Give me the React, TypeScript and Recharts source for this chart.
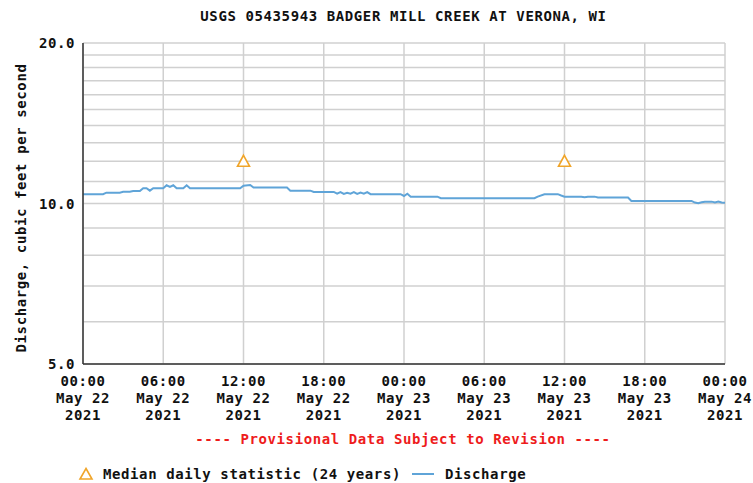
import React from "react";
import {
  ComposedChart,
  Line,
  Scatter,
  XAxis,
  YAxis,
  CartesianGrid,
} from "recharts";

// Hours since 00:00 May 22 2021
const hours = [
  0, 1.5, 1.75, 2.75, 3.0, 3.5, 3.75, 4.25, 4.5, 4.75, 5.0, 5.25, 6.0, 6.25,
  6.5, 6.75, 7.0, 7.5, 7.75, 8.0, 11.75, 12.0, 12.5, 12.75, 15.25, 15.5, 17.0,
  17.25, 18.75, 19.0, 19.25, 19.5, 19.75, 20.0, 20.25, 20.5, 20.75, 21.0, 21.25,
  21.5, 23.75, 24.0, 24.25, 24.5, 26.5, 26.75, 33.75, 34.0, 34.5, 35.5, 35.75,
  36.0, 37.25, 37.5, 37.75, 38.25, 38.5, 40.75, 41.0, 45.5, 45.75, 46.0, 46.25,
  46.5, 47.0, 47.25, 47.5, 47.75, 48.0,
];
// Discharge, cubic feet per second
const discharge = [
  10.41, 10.41, 10.48, 10.48, 10.52, 10.52, 10.55, 10.55, 10.68, 10.68, 10.57,
  10.68, 10.68, 10.82, 10.74, 10.82, 10.68, 10.68, 10.82, 10.68, 10.68, 10.8,
  10.83, 10.71, 10.71, 10.57, 10.57, 10.51, 10.51, 10.43, 10.5, 10.42, 10.47,
  10.43, 10.5, 10.42, 10.48, 10.43, 10.5, 10.41, 10.41, 10.33, 10.43, 10.3,
  10.3, 10.23, 10.23, 10.3, 10.41, 10.41, 10.35, 10.3, 10.3, 10.27, 10.3, 10.3,
  10.26, 10.26, 10.11, 10.11, 10.04, 10.01, 10.05, 10.08, 10.08, 10.04, 10.08,
  10.04, 10.03,
];

const medianHours = [12, 36];
const medianValues = [12, 12];

const xTicks = [0, 6, 12, 18, 24, 30, 36, 42, 48];
const xTickTimes = ["00:00", "06:00", "12:00", "18:00", "00:00", "06:00", "12:00", "18:00", "00:00"];
const xTickDates = ["May 22", "May 22", "May 22", "May 22", "May 23", "May 23", "May 23", "May 23", "May 24"];
const xTickYears = ["2021", "2021", "2021", "2021", "2021", "2021", "2021", "2021", "2021"];

const yTicks = [5, 6, 7, 8, 9, 10, 11, 12, 13, 14, 15, 16, 17, 18, 19, 20];
const yLabels: Record<number, string> = { 5: "5.0", 10: "10.0", 20: "20.0" };

const title = "USGS 05435943 BADGER MILL CREEK AT VERONA, WI";
const yAxisTitle = "Discharge, cubic feet per second";
const provisional = "---- Provisional Data Subject to Revision ----";
const legendMedian = "Median daily statistic (24 years)";
const legendDischarge = "Discharge";

const lineData = hours.map((h, i) => ({ t: h, q: discharge[i] }));
const medianData = medianHours.map((h, i) => ({ t: h, q: medianValues[i] }));

const FONT = "'DejaVu Sans Mono', 'Liberation Mono', monospace";
const fontStyle: React.CSSProperties = {
  fontFamily: FONT,
  fontWeight: "bold",
  fontSize: 14,
  letterSpacing: 0.6,
};

const LINE_COLOR = "#5fa4d8";
const TRI_COLOR = "#f0a52a";

const XTick = (props: any) => {
  const { x, y, payload } = props;
  const i = payload.index ?? xTicks.indexOf(payload.value);
  return (
    <text x={x} y={y} textAnchor="middle" fill="#111" style={fontStyle}>
      <tspan x={x} dy={14}>{xTickTimes[i]}</tspan>
      <tspan x={x} dy={17}>{xTickDates[i]}</tspan>
      <tspan x={x} dy={17}>{xTickYears[i]}</tspan>
    </text>
  );
};

const YTick = (props: any) => {
  const { x, y, payload } = props;
  const label = yLabels[payload.value];
  if (!label) return null;
  return (
    <text x={x} y={y} dy={5} textAnchor="end" fill="#111" style={fontStyle}>
      {label}
    </text>
  );
};

const Triangle = (props: any) => {
  const { cx, cy } = props;
  if (cx == null || cy == null) return null;
  const w = 6;
  return (
    <path
      d={`M${cx},${cy - 6} L${cx + w},${cy + 5} L${cx - w},${cy + 5} Z`}
      fill="#fff"
      stroke={TRI_COLOR}
      strokeWidth={1.6}
    />
  );
};

export default function App() {
  return (
    <div
      style={{
        position: "absolute",
        left: 0,
        top: 0,
        width: 753,
        height: 483,
        background: "#fff",
        overflow: "hidden",
      }}
    >
      <ComposedChart
        width={753}
        height={483}
        margin={{ top: 43, right: 28, bottom: 59, left: 0 }}
      >
        <CartesianGrid xAxisId="b" yAxisId="l" stroke="#d0d0d0" strokeWidth={1.5} />
        <XAxis
          xAxisId="b"
          dataKey="t"
          type="number"
          domain={[0, 48]}
          ticks={xTicks}
          interval={0}
          tick={<XTick />}
          tickLine={false}
          axisLine={{ stroke: "#333", strokeWidth: 1.5 }}
          height={60}
          allowDataOverflow
        />
        <XAxis
          xAxisId="top"
          orientation="top"
          dataKey="t"
          type="number"
          domain={[0, 48]}
          tick={false}
          tickLine={false}
          axisLine={{ stroke: "#333", strokeWidth: 1.5 }}
          height={0}
        />
        <YAxis
          yAxisId="l"
          dataKey="q"
          scale="log"
          type="number"
          domain={[5, 20]}
          ticks={yTicks}
          interval={0}
          tick={<YTick />}
          tickLine={false}
          axisLine={{ stroke: "#333", strokeWidth: 1.5 }}
          width={83}
          allowDataOverflow
        />
        <YAxis
          yAxisId="r"
          orientation="right"
          scale="log"
          type="number"
          domain={[5, 20]}
          tick={false}
          tickLine={false}
          axisLine={{ stroke: "#333", strokeWidth: 1.5 }}
          width={0}
        />
        <Line
          xAxisId="b"
          yAxisId="l"
          data={lineData}
          dataKey="q"
          type="linear"
          stroke={LINE_COLOR}
          strokeWidth={2}
          dot={false}
          isAnimationActive={false}
        />
        <Scatter
          xAxisId="b"
          yAxisId="l"
          data={medianData}
          dataKey="q"
          shape={<Triangle />}
          isAnimationActive={false}
        />
      </ComposedChart>

      <div
        style={{
          ...fontStyle,
          position: "absolute",
          left: 0,
          width: 807,
          top: 8,
          textAlign: "center",
          color: "#111",
          whiteSpace: "pre",
        }}
      >
        {title}
      </div>

      <div
        style={{
          ...fontStyle,
          position: "absolute",
          left: 21,
          top: 208,
          transform: "translate(-50%, -50%) rotate(-90deg)",
          color: "#111",
          whiteSpace: "pre",
        }}
      >
        {yAxisTitle}
      </div>

      <div
        style={{
          ...fontStyle,
          position: "absolute",
          left: 0,
          width: 806,
          top: 431,
          textAlign: "center",
          color: "#ee1c1c",
          whiteSpace: "pre",
        }}
      >
        {provisional}
      </div>

      <div
        style={{
          ...fontStyle,
          position: "absolute",
          left: 78,
          top: 466,
          color: "#111",
          whiteSpace: "pre",
          display: "flex",
          alignItems: "center",
        }}
      >
        <svg width={16} height={14} style={{ marginRight: 9 }}>
          <path d="M8,1.5 L14,12 L2,12 Z" fill="#fff" stroke={TRI_COLOR} strokeWidth={1.6} />
        </svg>
        <span>{legendMedian}</span>
        <svg width={36} height={14} style={{ margin: "0 3px 0 5px" }}>
          <line x1={6} y1={7} x2={28} y2={7} stroke={LINE_COLOR} strokeWidth={2} />
        </svg>
        <span>{legendDischarge}</span>
      </div>
    </div>
  );
}
